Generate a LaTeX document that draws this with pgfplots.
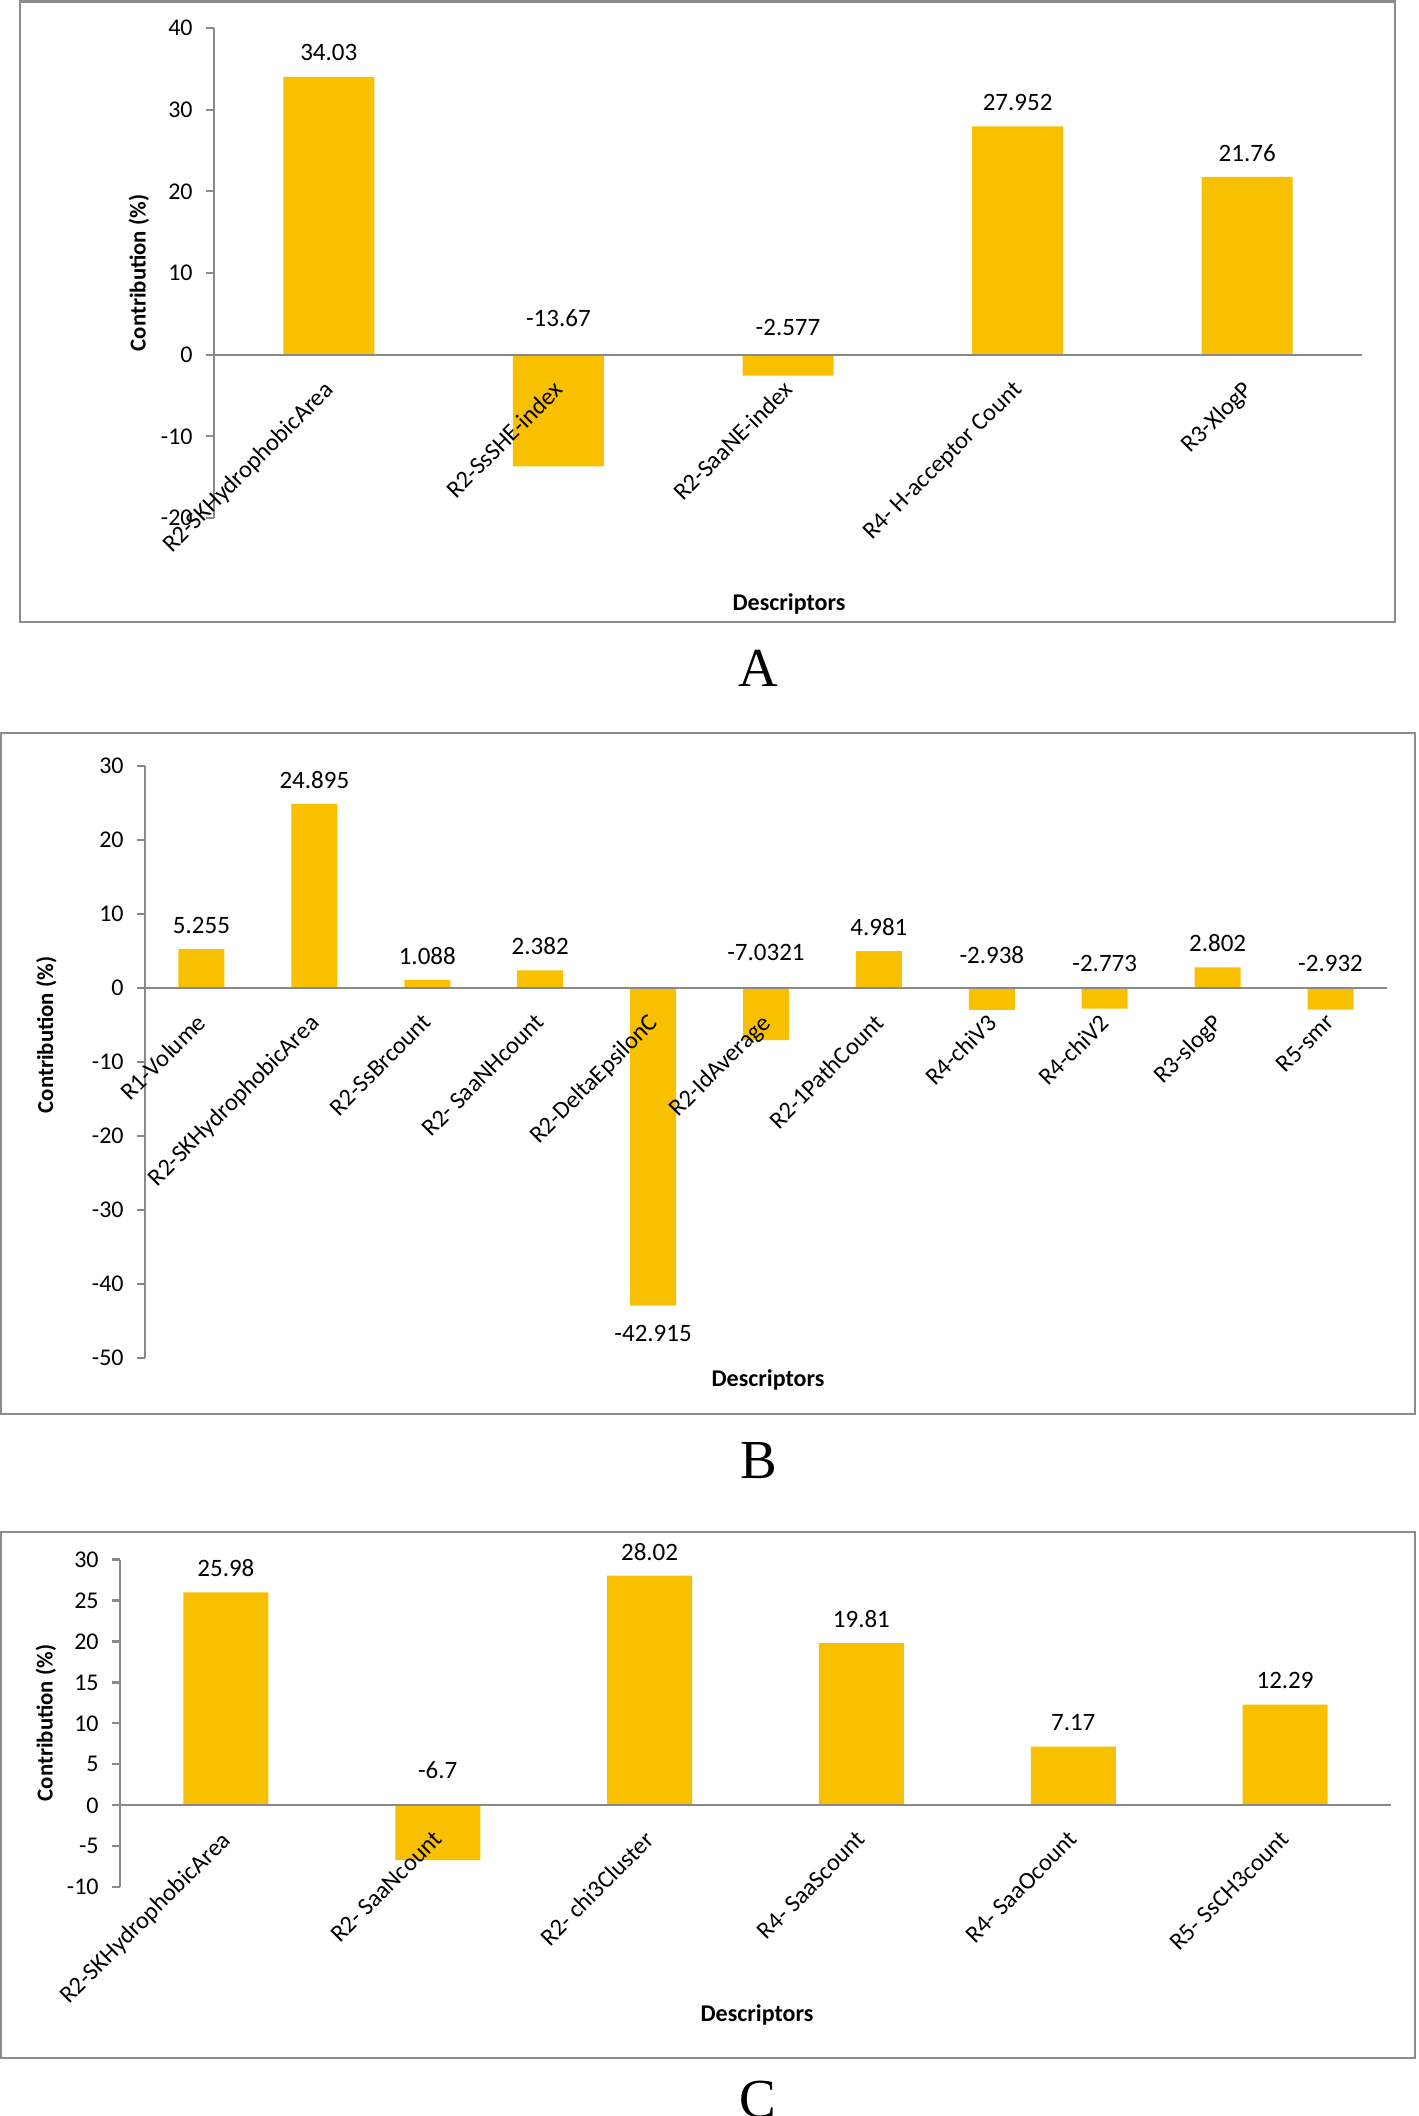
\documentclass[border=0pt]{standalone}
\usepackage{pgfplots}
\pgfplotsset{compat=1.18}
\usepackage{fontspec}
\setmainfont{Carlito}
\newfontfamily\timesfont{Liberation Serif}
\definecolor{bargold}{RGB}{249,192,0}
\definecolor{axgray}{RGB}{137,137,137}
\definecolor{framegray}{RGB}{140,140,140}

\pgfplotsset{
  cbar/.style={
    scale only axis,
    axis on top,
    clip=false,
    axis x line=middle,
    axis y line=left,
    hide obscured x ticks=false,
    hide obscured y ticks=false,
    axis line style={-, draw=axgray, line width=1.1pt},
    tick align=outside,
    major tick length=4pt,
    xtick style={draw=none},
    ytick style={draw=axgray, line width=1.1pt},
    xticklabel style={yshift=-8pt, xshift=-3pt, rotate=45, anchor=north east, inner sep=0pt,
      font=\fontsize{12.2}{14}\selectfont},
    yticklabel style={anchor=east, inner sep=0pt, xshift=-6.5pt, font=\fontsize{12}{14}\selectfont},
    /pgf/number format/assume math mode=true,
    nodes near coords style={anchor=center, inner sep=0pt, font=\fontsize{12.5}{14}\selectfont, text=black},
  },
  lbl/.style={draw=none, mark=none, nodes near coords, point meta=explicit symbolic},
}

\begin{document}
\begin{tikzpicture}
\useasboundingbox (0,0) rectangle (709.5pt,-1058pt);

% ---------------- Panel A ----------------
\draw[framegray, line width=1.2pt] (10pt,-0.8pt) rectangle (697.5pt,-311pt);
\begin{axis}[cbar,
  at={(107pt,-259pt)}, anchor=south west,
  width=574pt, height=245pt,
  xmin=-0.5, xmax=4.5, ymin=-20, ymax=40,
  ytick={-20,-10,0,10,20,30,40},
  xtick={0,1,2,3,4},
  xticklabels={R2-SKHydrophobicArea, R2-SsSHE-index, R2-SaaNE-index, R4- H-acceptor Count, R3-XlogP},
]
\addplot[ybar, bar width=45.5pt, fill=bargold, draw=none] table[row sep=\\] {
x y \\
0 34.03 \\
1 -13.67 \\
2 -2.577 \\
3 27.952 \\
4 21.76 \\
};
\addplot[lbl] table[row sep=\\, meta=lab] {
x y lab \\
0 36.97 34.03 \\
1 4.5 -13.67 \\
2 3.3 -2.577 \\
3 30.89 27.952 \\
4 24.70 21.76 \\
};
\end{axis}
\node[rotate=90, font=\bfseries\fontsize{11.4}{13}\selectfont] at (69.5pt,-136.5pt) {Contribution (\%)};
\node[font=\bfseries\fontsize{12}{14}\selectfont] at (394.5pt,-302pt) {Descriptors};
\node[anchor=base, inner sep=0pt, font=\timesfont\fontsize{27.5}{30}\selectfont] at (379pt,-343pt) {A};

% ---------------- Panel B ----------------
\draw[framegray, line width=1.2pt] (0.5pt,-366.5pt) rectangle (707.5pt,-707pt);
\begin{axis}[cbar,
  at={(72.5pt,-679pt)}, anchor=south west,
  width=621pt, height=296pt,
  xmin=-0.5, xmax=10.5, ymin=-50, ymax=30,
  ytick={-50,-40,-30,-20,-10,0,10,20,30},
  xtick={0,1,2,3,4,5,6,7,8,9,10},
  xticklabels={R1-Volume, R2-SKHydrophobicArea, R2-SsBrcount, R2- SaaNHcount, R2-DeltaEpsilonC, R2-IdAverage, R2-1PathCount, R4-chiV3, R4-chiV2, R3-slogP, R5-smr},
]
\addplot[ybar, bar width=23pt, fill=bargold, draw=none] table[row sep=\\] {
x y \\
0 5.255 \\
1 24.895 \\
2 1.088 \\
3 2.382 \\
4 -42.915 \\
5 -7.0321 \\
6 4.981 \\
7 -2.938 \\
8 -2.773 \\
9 2.802 \\
10 -2.932 \\
};
\addplot[lbl] table[row sep=\\, meta=lab] {
x y lab \\
0 8.50 5.255 \\
1 28.14 24.895 \\
2 4.33 1.088 \\
3 5.62 2.382 \\
4 -46.75 -42.915 \\
5 4.8 -7.0321 \\
6 8.22 4.981 \\
7 4.5 -2.938 \\
8 3.3 -2.773 \\
9 6.04 2.802 \\
10 3.3 -2.932 \\
};
\end{axis}
\node[rotate=90, font=\bfseries\fontsize{11.4}{13}\selectfont] at (23.25pt,-517.5pt) {Contribution (\%)};
\node[font=\bfseries\fontsize{12}{14}\selectfont] at (384pt,-690pt) {Descriptors};
\node[anchor=base, inner sep=0pt, font=\timesfont\fontsize{27.5}{30}\selectfont] at (379.5pt,-739pt) {B};

% ---------------- Panel C ----------------
\draw[framegray, line width=1.2pt] (0.5pt,-766pt) rectangle (707.5pt,-1029pt);
\begin{axis}[cbar,
  at={(60pt,-943.6pt)}, anchor=south west,
  width=635.5pt, height=163.85pt,
  xmin=-0.5, xmax=5.5, ymin=-10, ymax=30,
  ytick={-10,-5,0,5,10,15,20,25,30},
  xtick={0,1,2,3,4,5},
  xticklabels={R2-SKHydrophobicArea, R2- SaaNcount, R2- chi3Cluster, R4- SaaScount, R4- SaaOcount, R5- SsCH3count},
]
\addplot[ybar, bar width=42.5pt, fill=bargold, draw=none] table[row sep=\\] {
x y \\
0 25.98 \\
1 -6.7 \\
2 28.02 \\
3 19.81 \\
4 7.17 \\
5 12.29 \\
};
\addplot[lbl] table[row sep=\\, meta=lab] {
x y lab \\
0 28.92 25.98 \\
1 4.3 -6.7 \\
2 30.96 28.02 \\
3 22.75 19.81 \\
4 10.11 7.17 \\
5 15.23 12.29 \\
};
\end{axis}
\node[rotate=90, font=\bfseries\fontsize{11.4}{13}\selectfont] at (23pt,-861.5pt) {Contribution (\%)};
\node[font=\bfseries\fontsize{12}{14}\selectfont] at (378.5pt,-1007.5pt) {Descriptors};
\node[anchor=base, inner sep=0pt, font=\timesfont\fontsize{27.5}{30}\selectfont] at (379pt,-1058.5pt) {C};
\end{tikzpicture}
\end{document}
